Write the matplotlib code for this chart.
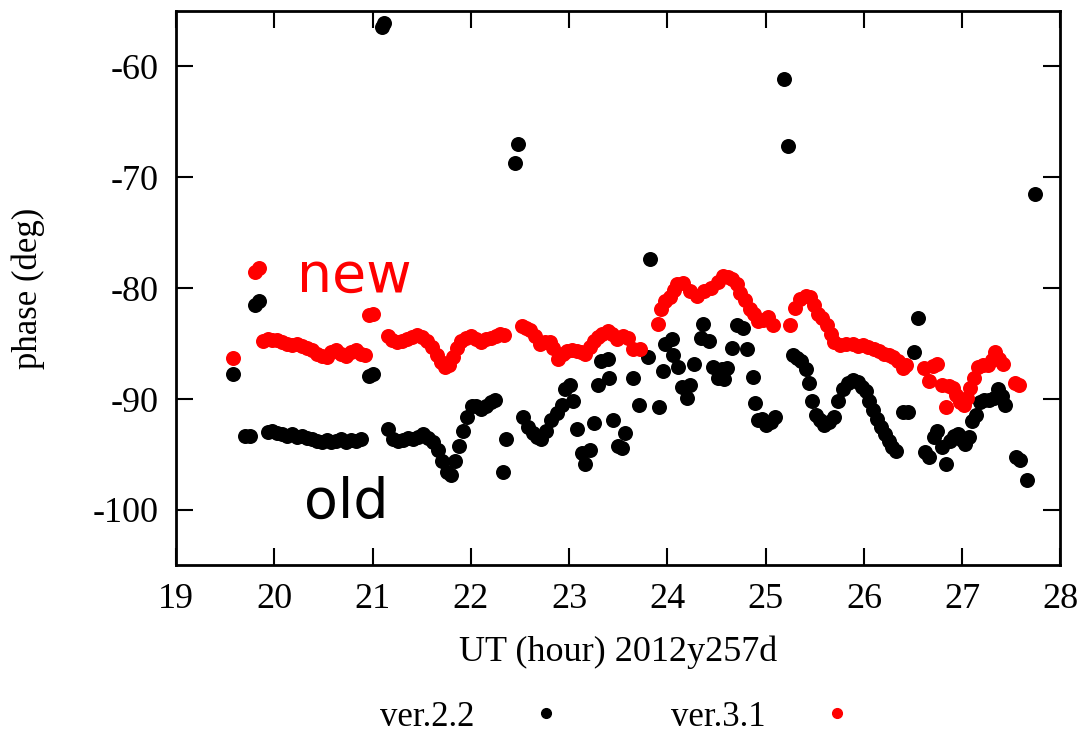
import matplotlib
matplotlib.use("Agg")
import matplotlib.pyplot as plt
from matplotlib.lines import Line2D

plt.rcParams["axes.unicode_minus"] = False

# ver.2.2 phase solution (old)
ut_old = [
    19.58, 19.70, 19.75, 19.80, 19.84,
    19.93, 19.98, 20.03, 20.08, 20.13, 20.18, 20.23, 20.28, 20.33, 20.38,
    20.43, 20.48, 20.53, 20.58, 20.63, 20.68, 20.73, 20.78, 20.83, 20.88,
    20.96, 21.00, 21.09, 21.12,
    21.16, 21.21, 21.26, 21.31, 21.36, 21.41, 21.46, 21.51, 21.56, 21.61,
    21.66, 21.71, 21.76, 21.80, 21.84, 21.88, 21.92, 21.96, 22.01, 22.05,
    22.10, 22.15, 22.20, 22.24, 22.33, 22.36, 22.45, 22.48,
    22.53, 22.58, 22.63, 22.67, 22.71, 22.76, 22.81, 22.88, 22.93, 22.96,
    23.01, 23.04, 23.08, 23.13, 23.16, 23.21, 23.25, 23.29, 23.32, 23.39,
    23.40, 23.45, 23.50, 23.54, 23.57, 23.65, 23.71, 23.80, 23.82,
    23.91, 23.95, 23.98, 24.05, 24.06, 24.11, 24.15, 24.20, 24.23, 24.27,
    24.34, 24.36, 24.42, 24.46, 24.51, 24.56, 24.58, 24.61, 24.66, 24.71,
    24.77, 24.81, 24.87, 24.89, 24.92, 24.96, 25.00, 25.05, 25.09,
    25.19, 25.23,
    25.28, 25.32, 25.36, 25.41, 25.44, 25.47, 25.51, 25.55, 25.59, 25.64,
    25.69, 25.74, 25.79, 25.84, 25.89, 25.94, 25.98, 26.02, 26.05, 26.09,
    26.13, 26.17, 26.21, 26.25, 26.29, 26.33, 26.40, 26.45, 26.51, 26.55,
    26.62, 26.66, 26.71, 26.74, 26.79, 26.84, 26.88, 26.92, 26.96, 27.00,
    27.03, 27.07, 27.10, 27.14, 27.18, 27.22, 27.27, 27.32, 27.36, 27.40,
    27.44, 27.55, 27.59, 27.66, 27.74,
]
phase_old = [
    -87.7, -93.3, -93.3, -81.5, -81.2,
    -93.0, -92.9, -93.1, -93.2, -93.3, -93.2, -93.4, -93.3, -93.5, -93.6,
    -93.8, -93.9, -93.7, -93.9, -93.8, -93.6, -93.9, -93.7, -93.8, -93.6,
    -87.9, -87.7, -56.4, -56.1,
    -92.7, -93.6, -93.8, -93.7, -93.5, -93.6, -93.4, -93.2, -93.5, -93.9,
    -94.6, -95.6, -96.6, -96.9, -95.6, -94.2, -92.9, -91.6, -90.6, -90.6,
    -90.9, -90.6, -90.3, -90.1, -96.6, -93.6, -68.7, -67.0,
    -91.6, -92.5, -93.1, -93.4, -93.6, -92.9, -91.9, -91.3, -90.5, -89.1,
    -88.7, -90.2, -92.7, -94.9, -95.9, -94.6, -92.2, -88.7, -86.6, -86.4,
    -88.1, -91.9, -94.2, -94.4, -93.1, -88.1, -90.5, -86.2, -77.4,
    -90.7, -87.5, -85.0, -84.6, -86.0, -87.1, -88.9, -89.9, -88.7, -86.8,
    -84.5, -83.2, -84.8, -87.1, -88.1, -87.3, -88.2, -87.2, -85.4, -83.3,
    -83.6, -85.5, -88.0, -90.4, -91.9, -91.8, -92.3, -92.1, -91.6,
    -61.1, -67.2,
    -86.0, -86.3, -86.6, -87.3, -88.6, -90.2, -91.4, -91.9, -92.3, -92.1,
    -91.6, -90.2, -89.1, -88.6, -88.3, -88.5, -88.9, -89.3, -90.2, -91.0,
    -91.8, -92.5, -93.2, -93.8, -94.3, -94.7, -91.2, -91.2, -85.8, -82.7,
    -94.8, -95.2, -93.4, -92.9, -94.3, -95.9, -93.8, -93.3, -93.2, -93.7,
    -94.1, -93.4, -92.0, -91.4, -90.3, -90.1, -90.1, -89.9, -89.1, -89.7,
    -90.5, -95.2, -95.5, -97.3, -71.5,
]

# ver.3.1 phase solution (new)
ut_new = [
    19.58, 19.80, 19.84,
    19.88, 19.93, 19.98, 20.03, 20.08, 20.13, 20.18, 20.23, 20.28, 20.33,
    20.38, 20.43, 20.48, 20.53, 20.58, 20.63, 20.68, 20.73, 20.78, 20.83,
    20.88, 20.92, 20.96, 21.00,
    21.16, 21.20, 21.25, 21.30, 21.35, 21.40, 21.45, 21.50, 21.55, 21.60,
    21.65, 21.70, 21.74, 21.78, 21.82, 21.86, 21.90, 21.95, 22.00, 22.05,
    22.10, 22.15, 22.20, 22.25, 22.30, 22.34,
    22.52, 22.56, 22.60, 22.65, 22.70, 22.75, 22.80, 22.84, 22.89, 22.94,
    22.98, 23.03, 23.08, 23.12, 23.16, 23.21, 23.25, 23.29, 23.33, 23.39,
    23.44, 23.49, 23.55, 23.60, 23.65, 23.72,
    23.90, 23.93, 23.98, 24.03, 24.07, 24.10, 24.16, 24.23, 24.30, 24.37,
    24.44, 24.51, 24.57, 24.62, 24.66, 24.71, 24.74, 24.79, 24.84, 24.88,
    24.92, 24.97, 25.02, 25.07,
    25.25, 25.30, 25.35, 25.41, 25.45, 25.49, 25.53, 25.57, 25.62, 25.66,
    25.70, 25.76, 25.82, 25.89, 25.94, 25.99, 26.04, 26.10, 26.15, 26.20,
    26.25, 26.30, 26.35, 26.40, 26.43,
    26.61, 26.66, 26.70, 26.74, 26.79, 26.83, 26.87, 26.91, 26.94, 26.98,
    27.02, 27.05, 27.08, 27.12, 27.16, 27.21, 27.26, 27.30, 27.33, 27.37,
    27.42, 27.54, 27.58,
]
phase_new = [
    -86.3, -78.5, -78.2,
    -84.8, -84.6, -84.7, -84.7, -84.9, -85.0, -85.1, -85.0, -85.2, -85.4,
    -85.6, -85.9, -86.1, -86.2, -85.8, -85.6, -85.9, -86.1, -85.8, -85.6,
    -85.9, -86.0, -82.4, -82.3,
    -84.3, -84.7, -84.9, -84.8, -84.6, -84.4, -84.2, -84.4, -84.8, -85.3,
    -86.0, -86.7, -87.1, -86.9, -86.2, -85.4, -84.8, -84.5, -84.3, -84.6,
    -84.9, -84.6, -84.5, -84.3, -84.1, -84.2,
    -83.4, -83.6, -83.8, -84.3, -85.0, -84.9, -84.9, -85.4, -86.4, -85.9,
    -85.7, -85.6, -85.7, -85.8, -85.9, -85.3, -84.8, -84.4, -84.1, -83.9,
    -84.1, -84.6, -84.3, -84.5, -85.5, -85.5,
    -83.2, -81.9, -81.2, -80.8, -80.2, -79.6, -79.5, -80.3, -80.7, -80.3,
    -80.0, -79.4, -78.9, -79.0, -79.2, -79.6, -80.4, -81.1, -81.9, -82.3,
    -83.0, -82.9, -82.6, -83.3,
    -83.3, -81.8, -81.0, -80.7, -80.8, -81.5, -82.3, -82.7, -83.3, -84.1,
    -84.9, -85.1, -85.0, -85.0, -85.2, -85.1, -85.3, -85.5, -85.7, -85.9,
    -86.0, -86.2, -86.6, -87.2, -86.9,
    -87.2, -88.4, -87.0, -86.8, -88.7, -90.7, -88.8, -89.0, -89.6, -90.3,
    -90.5, -89.9, -89.0, -88.1, -87.1, -86.9, -86.9, -86.5, -85.8, -86.4,
    -86.8, -88.6, -88.7,
]

x_ticks = [19, 20, 21, 22, 23, 24, 25, 26, 27, 28]
y_ticks = [-100, -90, -80, -70, -60]

serif = ["Liberation Serif", "DejaVu Serif"]

fig = plt.figure(figsize=(10.81, 7.37), dpi=100)
ax = fig.add_axes([0.163, 0.233, 0.818, 0.752])

ax.plot(ut_old, phase_old, "o", color="black", markersize=10.8, markeredgewidth=0)
ax.plot(ut_new, phase_new, "o", color="red", markersize=10.8, markeredgewidth=0)

ax.set_xlim(19, 28)
ax.set_ylim(-105, -55)
ax.set_xticks(x_ticks)
ax.set_yticks(y_ticks)
ax.tick_params(direction="in", length=12, width=1.5, top=True, right=True,
               labelsize=26, pad=13)
for lbl in ax.get_xticklabels() + ax.get_yticklabels():
    lbl.set_family(serif)
for sp in ax.spines.values():
    sp.set_linewidth(2)

ax.set_xlabel("UT (hour) 2012y257d", family=serif, fontsize=26, labelpad=14)
ax.set_ylabel("phase (deg)", family=serif, fontsize=25, labelpad=34)

# labels for the two solutions
ax.text(20.81, -79.0, "new", color="red", fontsize=40, ha="center", va="center",
        family="DejaVu Sans")
ax.text(20.73, -99.4, "old", color="black", fontsize=40, ha="center", va="center",
        family="DejaVu Sans")

handles = [Line2D([], [], ls="none", marker="o", color="black", markersize=7),
           Line2D([], [], ls="none", marker="o", color="red", markersize=7)]
fig.legend(handles, ["ver.2.2", "ver.3.1"], ncol=2, markerfirst=False,
           frameon=False, loc="center", bbox_to_anchor=(0.571, 0.027),
           prop={"family": serif, "size": 25}, handletextpad=1.57,
           columnspacing=3.1, handlelength=1.0)

fig.savefig("out.png", dpi=100)
